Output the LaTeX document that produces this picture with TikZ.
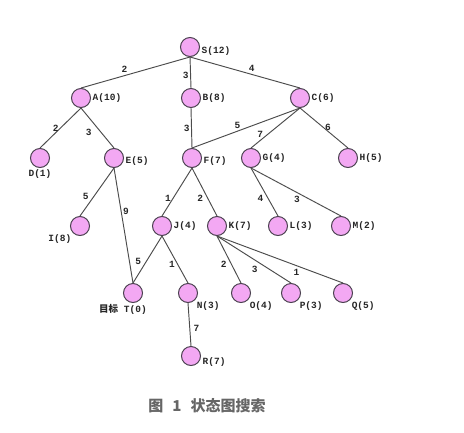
\documentclass[tikz,border=0pt]{standalone}
\usepackage{fontspec}
\setmonofont{Liberation Mono}
\newfontfamily\cjk{Noto Sans CJK SC}
\usetikzlibrary{calc}
\definecolor{statepink}{RGB}{243,168,243}
\definecolor{statedraw}{RGB}{75,65,80}

\begin{document}
\begin{tikzpicture}[x=1pt, y=-1pt,
            state/.style={circle, draw=statedraw, fill=statepink, line width=1pt,
                minimum size=19pt, inner sep=0pt},
            lbl/.style={font=\ttfamily\bfseries\fontsize{9.5}{10}\selectfont, text=black!85, inner sep=1.5pt},
            wt/.style={font=\ttfamily\bfseries\fontsize{9.5}{10}\selectfont, text=black!85, inner sep=1.5pt},
            link/.style={draw=black!70, line width=0.95pt}
        ]

            \useasboundingbox (0,0) rectangle (464,432);

            % states, level by level
            \node[state, label={[lbl, yshift=-4pt]right:S(12)}] (S) at (190,47) {};

            \node[state, label={[lbl]right:A(10)}] (A) at (81,98) {};
            \node[state, label={[lbl]right:B(8)}] (B) at (191,98) {};
            \node[state, label={[lbl]right:C(6)}] (C) at (300,98) {};

            \node[state, label={[lbl]below:D(1)}] (D) at (40,158) {};
            \node[state, label={[lbl, yshift=-3pt]right:E(5)}] (E) at (114,158) {};
            \node[state, label={[lbl, yshift=-3pt]right:F(7)}] (F) at (192,158) {};
            \node[state, label={[lbl]right:G(4)}] (G) at (251,158) {};
            \node[state, label={[lbl]right:H(5)}] (H) at (348,158) {};

            \node[state, label={[lbl]below left:I(8)}] (I) at (80,226) {};
            \node[state, label={[lbl]right:J(4)}] (J) at (162,226) {};
            \node[state, label={[lbl]right:K(7)}] (K) at (217,226) {};
            \node[state, label={[lbl]right:L(3)}] (L) at (278,226) {};
            \node[state, label={[lbl]right:M(2)}] (M) at (341,226) {};

            \node[state, label={[lbl, xshift=-10pt]below:{\cjk 目标} T(0)}] (T) at (133,293) {};
            \node[state, label={[lbl]below right:N(3)}] (N) at (188,293) {};
            \node[state, label={[lbl]below right:O(4)}] (O) at (241,293) {};
            \node[state, label={[lbl]below right:P(3)}] (P) at (291,293) {};
            \node[state, label={[lbl]below right:Q(5)}] (Q) at (343,293) {};

            \node[state, label={[lbl, yshift=-6pt]right:R(7)}] (R) at (191,356) {};

            % arcs with their costs
            \draw[link] (S.south) -- (A.north) node[wt, pos=0.6, above=1pt] {2};
            \draw[link] (S.south) -- (B.north) node[wt, pos=0.6, left] {3};
            \draw[link] (S.south) -- (C.north) node[wt, pos=0.56, above=1pt] {4};

            \draw[link] (A.south) -- (D.north) node[wt, pos=0.5, left] {2};
            \draw[link] (A.south) -- (E.north) node[wt, pos=0.62, left=8pt] {3};
            \draw[link] (B.south) -- (F.north) node[wt, pos=0.5, left] {3};
            \draw[link] (C.south) -- (F.north) node[wt, pos=0.58, above=1pt] {5};
            \draw[link] (C.south) -- (G.north) node[wt, pos=0.67, left=2pt] {7};
            \draw[link] (C.south) -- (H.north) node[wt, pos=0.48, right] {6};

            \draw[link] (E.south) -- (I.north) node[wt, pos=0.6, left=3pt] {5};
            \draw[link] (E.south) -- (T.north) node[wt, pos=0.38, right] {9};
            \draw[link] (F.south) -- (J.north) node[wt, pos=0.64, left=0pt] {1};
            \draw[link] (F.south) -- (K.north) node[wt, pos=0.64, left=3pt] {2};
            \draw[link] (G.south) -- (L.north) node[wt, pos=0.64, left=3pt] {4};
            \draw[link] (G.south) -- (M.north) node[wt, pos=0.51, below=2pt] {3};

            \draw[link] (J.south) -- (T.north) node[wt, pos=0.55, left=3pt] {5};
            \draw[link] (J.south) -- (N.north) node[wt, pos=0.61, left=1pt] {1};
            \draw[link] (K.south) -- (O.north) node[wt, pos=0.61, left=3pt] {2};
            \draw[link] (K.south) -- (P.north) node[wt, pos=0.51, below=4pt] {3};
            \draw[link] (K.south) -- (Q.north) node[wt, pos=0.63, below=2pt] {1};
            \draw[link] (N.south) -- (R.north) node[wt, pos=0.58, right=2pt] {7};

            \node[font=\cjk\bfseries\fontsize{15}{17}\selectfont, text=black!60] (cap) at (207,406)
                {图\hspace{9pt}1\hspace{9pt}状态图搜索};

        \end{tikzpicture}
\end{document}
